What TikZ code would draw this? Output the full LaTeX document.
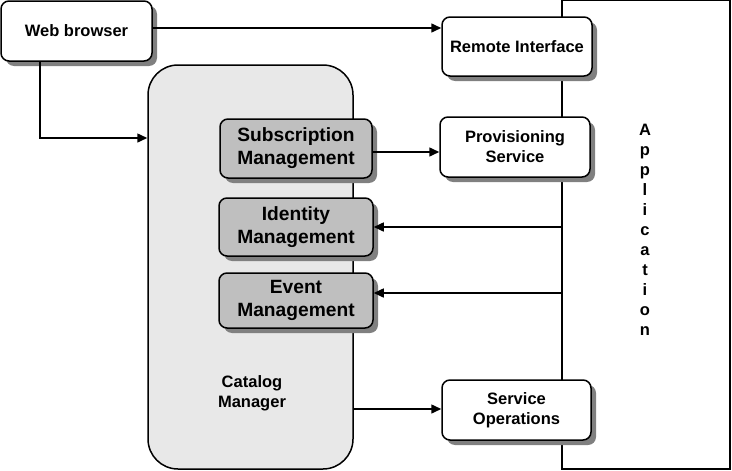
\documentclass[tikz,border=0pt]{standalone}
\usepackage{fontspec}
\setmainfont{Liberation Sans}
\usetikzlibrary{shadows,arrows.meta}
\begin{document}
\begin{tikzpicture}[x=1pt,y=-1pt,
  box/.style={draw, line width=1.5pt, rounded corners=8pt, fill=white, align=center,
    font=\bfseries\fontsize{16.5}{20}\selectfont, inner sep=0pt,
    drop shadow={shadow xshift=5pt, shadow yshift=-5pt, fill=black!50, opacity=1}},
  gbox/.style={box, fill=black!25, font=\bfseries\fontsize{19.2}{23}\selectfont},
  lbl/.style={align=center, font=\bfseries\fontsize{16.5}{20}\selectfont, inner sep=0pt},
  conn/.style={line width=1.5pt, -{Triangle[length=10pt,width=9pt]}}]
\useasboundingbox (0,0) rectangle (732,471);
% Application
\node[draw, line width=1.5pt, fill=white, minimum width=168pt, minimum height=469pt, inner sep=0pt] (app) at (646,234.5) {};
\node[lbl] (applbl) at (645,230) {A\\p\\p\\l\\i\\c\\a\\t\\i\\o\\n};
% Catalog manager
\node[draw, line width=1.5pt, rounded corners=30pt, fill=black!9, minimum width=205pt, minimum height=404pt, inner sep=0pt] (cat) at (250.5,267) {};
\node[lbl] (catlbl) at (252,393.5) {Catalog\\Manager};
% boxes
\node[box, minimum width=151pt, minimum height=60pt] (wb) at (76.5,31) {Web browser};
\node[box, minimum width=150pt, minimum height=59pt] (ri) at (517,46.5) {Remote Interface};
\node[box, minimum width=150pt, minimum height=60pt] (ps) at (515,147) {Provisioning\\Service};
\node[box, minimum width=149pt, minimum height=60pt] (so) at (516.5,410) {Service\\Operations};
\node[gbox, minimum width=152pt, minimum height=59pt] (sub) at (296,148.5) {Subscription\\Management};
\node[gbox, minimum width=154pt, minimum height=58pt] (idm) at (296,227) {Identity\\Management};
\node[gbox, minimum width=154pt, minimum height=55pt] (evm) at (296,300.5) {Event\\Management};
% connectors
\coordinate (r1) at (0,28);
\coordinate (j) at (40,138);
\coordinate (r2) at (0,152);
\coordinate (r4) at (0,293);
\coordinate (r3) at (0,409);
\draw[conn] (wb.east |- r1) -- (ri.west |- r1);
\draw[conn] (wb.south -| j) |- (cat.west |- j);
\draw[conn] (sub.east |- r2) -- (ps.west |- r2);
\draw[conn] (app.west |- idm.east) -- (idm.east);
\draw[conn] (app.west |- r4) -- (evm.east |- r4);
\draw[conn] (cat.east |- r3) -- (so.west |- r3);
\end{tikzpicture}
\end{document}
